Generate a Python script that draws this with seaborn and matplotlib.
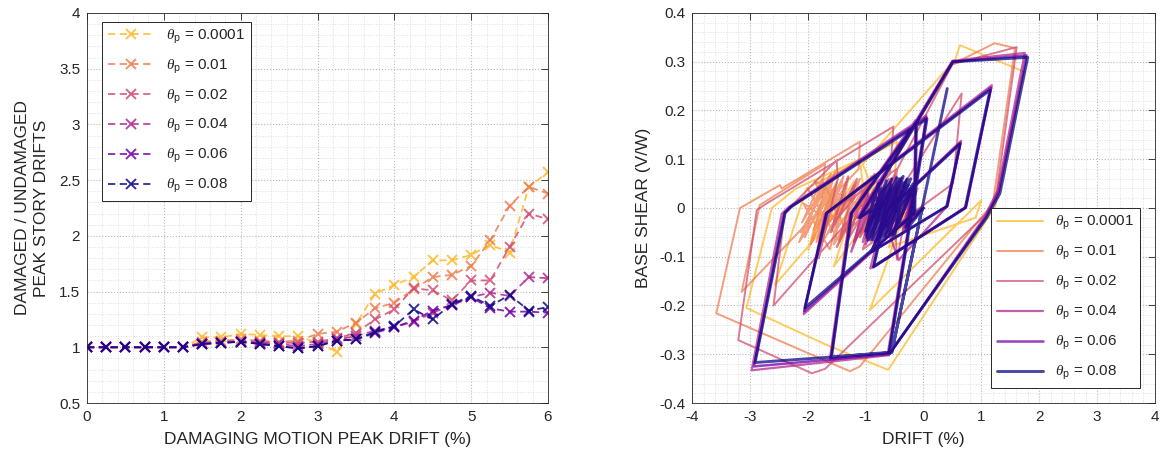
import numpy as np
import pandas as pd
import matplotlib
matplotlib.use("Agg")
import matplotlib.pyplot as plt
import seaborn as sns
from matplotlib.ticker import MultipleLocator, FuncFormatter

# ---- data: left panel (ratio of damaged / undamaged peak story drift) ----
theta_labels = ["0.0001", "0.01", "0.02", "0.04", "0.06", "0.08"]
damaging_drift = [0.0, 0.25, 0.5, 0.75, 1.0, 1.25, 1.5, 1.75, 2.0, 2.25, 2.5, 2.75, 3.0,
                  3.25, 3.5, 3.75, 4.0, 4.25, 4.5, 4.75, 5.0, 5.25, 5.5, 5.75, 6.0]
ratio_0001 = [1.00, 1.00, 1.00, 1.00, 1.00, 1.00, 1.09, 1.09, 1.12, 1.11, 1.10, 1.10, 1.04,
              0.96, 1.21, 1.48, 1.56, 1.63, 1.78, 1.78, 1.83, 1.92, 1.85, 2.44, 2.57]
ratio_001 = [1.00, 1.00, 1.00, 1.00, 1.00, 1.00, 1.05, 1.06, 1.07, 1.06, 1.05, 1.06, 1.12,
             1.14, 1.22, 1.35, 1.40, 1.52, 1.63, 1.65, 1.73, 1.96, 2.27, 2.44, 2.38]
ratio_002 = [1.00, 1.00, 1.00, 1.00, 1.00, 1.00, 1.04, 1.05, 1.06, 1.05, 1.04, 1.04, 1.05,
             1.08, 1.13, 1.25, 1.34, 1.53, 1.51, 1.42, 1.60, 1.60, 1.90, 2.20, 2.15]
ratio_004 = [1.00, 1.00, 1.00, 1.00, 1.00, 1.00, 1.03, 1.04, 1.05, 1.04, 1.03, 1.01, 1.03,
             1.07, 1.10, 1.15, 1.18, 1.23, 1.31, 1.38, 1.45, 1.49, 1.46, 1.63, 1.62]
ratio_006 = [1.00, 1.00, 1.00, 1.00, 1.00, 1.00, 1.03, 1.04, 1.05, 1.03, 1.01, 0.99, 1.01,
             1.06, 1.07, 1.13, 1.18, 1.24, 1.33, 1.38, 1.45, 1.35, 1.32, 1.32, 1.31]
ratio_008 = [1.00, 1.00, 1.00, 1.00, 1.00, 1.00, 1.03, 1.04, 1.05, 1.03, 1.01, 0.99, 1.01,
             1.06, 1.07, 1.14, 1.19, 1.34, 1.25, 1.39, 1.46, 1.37, 1.47, 1.33, 1.36]

# ---- data: right panel (hysteresis, drift % vs V/W), vertices in time order ----
loop_0001 = [(0.00, 0.000), (-0.40, -0.040), (-0.15, 0.035), (-0.75, -0.055), (-0.50, 0.045),
             (-1.10, -0.060), (-0.85, 0.050), (-1.45, -0.065), (-1.20, 0.055), (-1.80, -0.060),
             (-1.50, 0.055), (-1.99, -0.086), (-1.70, 0.045), (-1.30, -0.050), (-0.95, 0.060),
             (-1.05, 0.090), (0.55, 0.305), (0.63, 0.334), (1.73, 0.280), (1.24, 0.003),
             (-0.61, -0.332), (-1.67, -0.281), (-3.06, -0.205), (-2.62, 0.000), (-2.20, 0.040),
             (-1.10, 0.100), (-1.05, 0.050), (-2.57, -0.158), (-2.02, 0.040), (-0.46, 0.136),
             (-0.50, 0.050), (-1.55, -0.120), (-1.30, -0.030), (-0.20, 0.030), (-0.93, -0.210),
             (1.00, 0.016), (0.90, -0.020), (-0.60, -0.080), (-0.30, 0.020)]
loop_001 = [(0.00, 0.000), (-0.40, -0.040), (-0.15, 0.030), (-0.80, -0.060), (-0.55, 0.040),
            (-1.20, -0.070), (-0.95, 0.050), (-1.55, -0.075), (-1.30, 0.060), (-1.85, -0.070),
            (-1.55, 0.065), (-2.05, -0.060), (-1.75, 0.060), (-2.10, -0.030), (-1.60, 0.070),
            (-1.95, -0.075), (-1.40, 0.055), (-1.80, -0.060), (-1.20, 0.045), (-1.65, -0.050),
            (-1.10, 0.060), (-1.45, -0.070), (-2.00, 0.040), (-1.70, -0.020), (-2.08, 0.010),
            (-1.62, -0.085), (-1.35, 0.030), (-1.90, -0.045), (-1.52, 0.075), (-2.12, -0.050),
            (-1.72, 0.040), (-1.28, -0.060), (-1.05, 0.035), (-1.48, -0.040), (-1.88, 0.055),
            (-1.00, 0.000), (0.50, 0.295), (1.23, 0.338), (1.58, 0.328), (1.20, 0.010),
            (1.05, -0.012), (-1.10, -0.325), (-1.27, -0.335), (-3.58, -0.216), (-3.17, 0.000),
            (-2.48, 0.047), (-2.45, 0.040), (-1.10, 0.136), (-1.12, 0.080), (-3.14, -0.172),
            (-2.83, 0.006), (-1.70, 0.090), (-1.75, 0.040), (-2.15, -0.070), (-1.50, 0.050),
            (-1.85, -0.040), (-1.38, 0.065), (-1.78, -0.075), (-1.25, 0.020)]
loop_002 = [(0.00, 0.000), (-0.35, -0.040), (-0.10, 0.040), (-0.60, -0.060), (-0.35, 0.050),
            (-0.90, -0.070), (-0.60, 0.060), (-1.20, -0.070), (-0.90, 0.065), (-1.45, -0.065),
            (-1.15, 0.060), (-1.60, -0.050), (-1.30, 0.065), (-1.55, -0.030), (-0.95, 0.055),
            (-1.35, -0.075), (-0.75, 0.050), (-1.10, -0.060), (-0.55, 0.040), (-1.25, -0.040),
            (-0.85, 0.070), (-1.50, -0.080), (-1.05, 0.030),
            (-0.60, 0.000), (0.66, 0.235), (0.51, 0.050), (-1.05, -0.085), (-0.85, -0.010),
            (0.50, 0.295), (1.61, 0.330), (1.25, 0.020), (1.10, -0.010), (-1.70, -0.330),
            (-1.93, -0.339), (-3.20, -0.271), (-2.88, -0.004), (-2.70, 0.010), (-0.52, 0.167),
            (-0.58, 0.070), (-2.59, -0.200), (-2.40, -0.010), (-1.50, 0.098), (-1.48, 0.060),
            (-1.81, -0.103), (-1.65, -0.010), (-0.46, 0.080), (-0.50, 0.010), (-0.46, -0.106),
            (-0.30, -0.010)]
loop_004 = [(0.00, 0.000), (-0.35, -0.045), (-0.18, 0.045), (-0.58, -0.060), (-0.38, 0.055),
            (-0.80, -0.065), (-0.55, 0.050), (-1.05, -0.070), (-0.80, 0.045), (-1.25, -0.090),
            (-0.95, 0.030), (-1.10, -0.050), (-0.70, 0.060), (-1.00, -0.075), (-0.48, 0.065),
            (-1.15, -0.020), (0.50, 0.302), (1.75, 0.318), (1.28, 0.036), (1.06, -0.017),
            (-0.60, -0.302), (-2.97, -0.333), (-2.45, -0.012), (-2.33, 0.002), (0.05, 0.190),
            (-0.62, -0.300), (-1.62, -0.312), (-1.27, -0.012), (-0.14, 0.180), (-0.17, -0.012),
            (-2.07, -0.218), (-1.70, -0.012), (1.18, 0.252), (0.74, 0.003), (-0.92, -0.124),
            (-0.68, -0.012), (0.65, 0.138), (0.42, 0.005), (-0.43, -0.107), (-0.60, -0.050),
            (-0.30, 0.055), (-0.75, -0.060), (-0.45, 0.040), (-0.65, -0.020)]
loop_006 = [(0.00, 0.000), (-0.32, -0.040), (-0.15, 0.050), (-0.52, -0.055), (-0.30, 0.058),
            (-0.66, -0.058), (-0.42, 0.052), (-0.80, -0.062), (-0.55, 0.048), (-0.92, -0.066),
            (-0.66, 0.042), (-1.00, -0.055), (-0.70, 0.035), (-0.96, -0.035), (-0.38, 0.062),
            (-0.84, -0.068), (-0.26, 0.048), (-0.72, -0.046), (-0.20, 0.036),
            (-1.12, -0.020), (0.50, 0.300), (1.78, 0.313), (1.30, 0.033), (1.08, -0.018),
            (-0.59, -0.300), (-2.93, -0.325), (-2.41, -0.011), (-2.30, 0.002), (0.05, 0.186),
            (-0.60, -0.298), (-1.60, -0.309), (-1.25, -0.011), (-0.13, 0.177), (-0.16, -0.011),
            (-2.06, -0.212), (-1.68, -0.011), (1.17, 0.247), (0.73, 0.001), (-0.87, -0.122),
            (-0.66, -0.011), (0.64, 0.134), (0.41, 0.004), (-0.91, -0.091),
            (-0.75, -0.050), (-0.42, 0.052), (-0.88, -0.048), (-0.50, 0.040), (-0.80, -0.030),
            (-0.45, 0.020)]
loop_008 = [(0.00, 0.000), (-0.30, -0.045), (-0.12, 0.055), (-0.50, -0.050), (-0.28, 0.060),
            (-0.62, -0.055), (-0.40, 0.055), (-0.75, -0.060), (-0.50, 0.050), (-0.88, -0.065),
            (-0.62, 0.045), (-0.98, -0.060), (-0.72, 0.040), (-0.95, -0.045), (-0.55, 0.060),
            (-0.85, -0.055), (-0.35, 0.065), (-0.70, -0.050), (-0.22, 0.060), (-0.58, -0.040),
            (-0.30, 0.040), (-0.80, -0.068), (-0.46, 0.062), (-0.92, -0.056), (-0.64, 0.056),
            (-1.00, -0.048), (-0.78, 0.050), (-0.68, -0.064), (-0.18, 0.050), (-0.52, -0.060),
            (-0.86, 0.030), (-0.96, -0.066), (-0.34, 0.052),
            (-1.10, -0.020), (0.51, 0.300), (1.80, 0.309), (1.32, 0.030), (1.09, -0.020),
            (-0.58, -0.297), (-2.91, -0.317), (-2.39, -0.010), (-2.28, 0.003), (0.06, 0.183),
            (-0.59, -0.296), (-1.59, -0.306), (-1.24, -0.010), (-0.12, 0.175), (-0.15, -0.010),
            (-2.05, -0.205), (-1.67, -0.010), (1.15, 0.242), (0.72, 0.000), (-0.86, -0.120),
            (-0.65, -0.010), (0.63, 0.131), (0.40, 0.003), (-0.90, -0.090),
            (-0.78, -0.055), (-0.45, 0.050), (-0.92, -0.050), (-0.60, 0.030), (-0.82, -0.030),
            (-0.40, 0.035), (-0.70, -0.045), (-0.25, 0.055), (-0.60, -0.020), (-0.20, 0.045),
            (-0.74, -0.062), (-0.42, 0.060), (-0.88, -0.040), (-0.28, 0.030), (-0.66, -0.058),
            (-0.02, 0.000), (-0.55, -0.297), (0.41, 0.245)]

ratios = [ratio_0001, ratio_001, ratio_002, ratio_004, ratio_006, ratio_008]
loops = [loop_0001, loop_001, loop_002, loop_004, loop_006, loop_008]
loop_widths = [1.4, 1.4, 1.4, 1.6, 1.8, 2.1]

# ---- style ----
sns.set_style("white")
plt.rcParams["font.family"] = ["Liberation Sans", "DejaVu Sans"]
plt.rcParams["axes.unicode_minus"] = False
plt.rcParams["mathtext.fontset"] = "custom"
plt.rcParams["mathtext.rm"] = "Liberation Sans"
plt.rcParams["mathtext.it"] = "Liberation Serif:italic"

cmap = plt.get_cmap("plasma")
colors = [cmap(v) for v in [0.85, 0.68, 0.53, 0.40, 0.22, 0.0]]
labels = [r"$\theta_{\mathrm{p}}$ = " + t for t in theta_labels]
text_col = "#262626"

fig = plt.figure(figsize=(11.62, 4.59), dpi=100)
ax1 = fig.add_axes([0.0749, 0.122, 0.3967, 0.8497])
ax2 = fig.add_axes([0.5955, 0.122, 0.3985, 0.8497])


def style_axes(ax):
    ax.grid(True, which="major", ls=":", color="#b8b8b8", lw=0.8)
    ax.grid(True, which="minor", ls=":", color="#dedede", lw=0.7)
    ax.tick_params(which="major", direction="in", length=5, width=0.6,
                   top=True, right=True, labelsize=11, colors=text_col, pad=5)
    ax.tick_params(which="minor", length=0)
    for s in ax.spines.values():
        s.set_color(text_col)
        s.set_linewidth(0.6)
    ax.set_axisbelow(True)


def make_legend(ax, handles, **kw):
    leg = ax.legend(handles, labels, borderaxespad=0, fontsize=11, handlelength=3.0,
                    labelspacing=0.78, frameon=True, fancybox=False,
                    edgecolor=text_col, framealpha=1, **kw)
    leg.get_frame().set_linewidth(0.7)
    return leg


# left panel
handles1 = []
for r, c in zip(ratios, colors):
    sns.lineplot(x=damaging_drift, y=r, color=c, linestyle=(0, (4, 2.5)), lw=1.3,
                 marker="x", markersize=7, markeredgewidth=1.4, markeredgecolor=c,
                 alpha=0.85, ax=ax1)
    handles1.append(ax1.get_lines()[-1])
ax1.set_xlim(0, 6)
ax1.set_ylim(0.5, 4)
ax1.xaxis.set_major_locator(MultipleLocator(1))
ax1.xaxis.set_minor_locator(MultipleLocator(0.2))
ax1.yaxis.set_major_locator(MultipleLocator(0.5))
ax1.yaxis.set_minor_locator(MultipleLocator(0.1))
ax1.yaxis.set_major_formatter(FuncFormatter(lambda v, p: f"{v:g}"))
style_axes(ax1)
ax1.set_xlabel("DAMAGING MOTION PEAK DRIFT (%)", fontsize=12.5, color=text_col, labelpad=6)
ax1.set_ylabel("DAMAGED / UNDAMAGED\nPEAK STORY DRIFTS", fontsize=12.5, color=text_col,
               labelpad=7, linespacing=1.35)
make_legend(ax1, handles1, loc="upper left", bbox_to_anchor=(0.032, 0.978))

# right panel
handles2 = []
for lp, c, w in zip(loops, colors, loop_widths):
    d = [p[0] for p in lp]
    v = [p[1] for p in lp]
    sns.lineplot(x=d, y=v, sort=False, estimator=None, color=c, lw=w, alpha=0.75, ax=ax2)
    handles2.append(ax2.get_lines()[-1])
ax2.set_xlim(-4, 4)
ax2.set_ylim(-0.4, 0.4)
ax2.xaxis.set_major_locator(MultipleLocator(1))
ax2.xaxis.set_minor_locator(MultipleLocator(0.2))
ax2.yaxis.set_major_locator(MultipleLocator(0.1))
ax2.yaxis.set_minor_locator(MultipleLocator(0.02))
ax2.yaxis.set_major_formatter(FuncFormatter(lambda v, p: f"{v:.1f}" if abs(v) > 1e-9 else "0"))
style_axes(ax2)
ax2.set_xlabel("DRIFT (%)", fontsize=12.5, color=text_col, labelpad=6)
ax2.set_ylabel("BASE SHEAR (V/W)", fontsize=12.5, color=text_col, labelpad=6)
make_legend(ax2, handles2, loc="lower right", bbox_to_anchor=(0.968, 0.038))

fig.savefig("out.png", dpi=100)
